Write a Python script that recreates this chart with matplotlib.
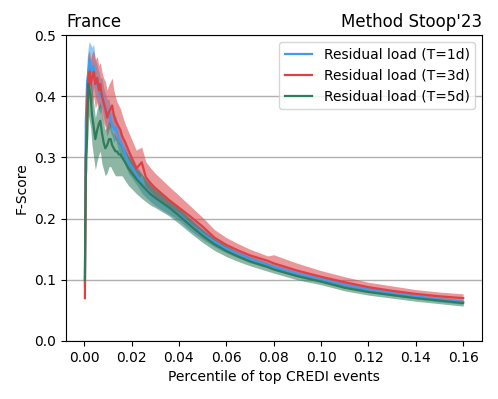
import numpy as np
import matplotlib
matplotlib.use("Agg")
import matplotlib.pyplot as plt

# percentile of top events (shared x grid)
pct = [0.0003, 0.0007, 0.0012, 0.0017, 0.0022, 0.0027, 0.0033, 0.004, 0.0047, 0.0055,
       0.0062, 0.0068, 0.0075, 0.0082, 0.0089, 0.0097, 0.0105, 0.0112, 0.0118, 0.0125,
       0.0132, 0.0139, 0.0146, 0.0153, 0.016, 0.0173, 0.0187, 0.020, 0.022, 0.0243,
       0.026, 0.028, 0.030, 0.033, 0.036, 0.040, 0.045, 0.050, 0.055, 0.060,
       0.065, 0.070, 0.0775, 0.080, 0.090, 0.100, 0.110, 0.120, 0.130, 0.140,
       0.150, 0.160]

# T=1d : mean score and band half width
f1_mean = [0.09, 0.36, 0.42, 0.44, 0.46, 0.45, 0.44, 0.45, 0.43, 0.42,
           0.41, 0.40, 0.405, 0.39, 0.38, 0.37, 0.375, 0.36, 0.355, 0.345,
           0.35, 0.34, 0.33, 0.325, 0.32, 0.305, 0.292, 0.285, 0.272, 0.258,
           0.250, 0.242, 0.234, 0.226, 0.218, 0.207, 0.190, 0.175, 0.162, 0.151,
           0.142, 0.134, 0.124, 0.121, 0.110, 0.101, 0.092, 0.084, 0.078, 0.073,
           0.068, 0.064]
f1_band = [0.02, 0.04, 0.04, 0.04, 0.03, 0.035, 0.04, 0.035, 0.03, 0.03,
           0.03, 0.03, 0.025, 0.025, 0.025, 0.025, 0.02, 0.02, 0.02, 0.02,
           0.02, 0.02, 0.02, 0.02, 0.02, 0.018, 0.018, 0.018, 0.016, 0.016,
           0.015, 0.014, 0.013, 0.012, 0.011, 0.01, 0.01, 0.009, 0.008, 0.007,
           0.006, 0.006, 0.005, 0.005, 0.005, 0.004, 0.004, 0.004, 0.004, 0.004,
           0.004, 0.004]

# T=3d
f3_mean = [0.07, 0.30, 0.38, 0.43, 0.44, 0.42, 0.43, 0.44, 0.42, 0.43,
           0.41, 0.42, 0.40, 0.39, 0.38, 0.365, 0.375, 0.38, 0.385, 0.37,
           0.36, 0.355, 0.35, 0.345, 0.335, 0.325, 0.312, 0.300, 0.282, 0.292,
           0.268, 0.258, 0.250, 0.240, 0.230, 0.218, 0.203, 0.187, 0.169, 0.157,
           0.148, 0.140, 0.131, 0.127, 0.115, 0.105, 0.096, 0.088, 0.082, 0.077,
           0.073, 0.070]
f3_up = [0.02, 0.05, 0.05, 0.04, 0.035, 0.04, 0.04, 0.035, 0.04, 0.035,
         0.04, 0.035, 0.04, 0.04, 0.045, 0.045, 0.045, 0.045, 0.045, 0.04,
         0.04, 0.035, 0.035, 0.035, 0.035, 0.03, 0.03, 0.03, 0.03, 0.025,
         0.025, 0.025, 0.024, 0.023, 0.022, 0.02, 0.017, 0.015, 0.013, 0.012,
         0.011, 0.01, 0.008, 0.014, 0.012, 0.01, 0.009, 0.008, 0.008, 0.007,
         0.007, 0.007]
f3_dn = [0.02, 0.04, 0.04, 0.04, 0.04, 0.04, 0.04, 0.04, 0.04, 0.04,
         0.035, 0.035, 0.035, 0.035, 0.03, 0.03, 0.03, 0.03, 0.03, 0.03,
         0.03, 0.028, 0.028, 0.026, 0.026, 0.025, 0.024, 0.022, 0.02, 0.02,
         0.018, 0.018, 0.017, 0.016, 0.015, 0.014, 0.012, 0.011, 0.01, 0.009,
         0.008, 0.008, 0.007, 0.007, 0.006, 0.006, 0.006, 0.006, 0.006, 0.006,
         0.006, 0.006]

# T=5d
f5_mean = [0.10, 0.30, 0.33, 0.42, 0.41, 0.40, 0.37, 0.35, 0.33, 0.345,
           0.355, 0.36, 0.34, 0.325, 0.315, 0.32, 0.33, 0.33, 0.32, 0.315,
           0.31, 0.31, 0.305, 0.305, 0.30, 0.292, 0.282, 0.275, 0.265, 0.255,
           0.248, 0.240, 0.234, 0.226, 0.218, 0.205, 0.188, 0.172, 0.158, 0.147,
           0.138, 0.130, 0.121, 0.117, 0.106, 0.097, 0.087, 0.080, 0.075, 0.070,
           0.066, 0.062]
f5_up = [0.02, 0.04, 0.05, 0.05, 0.05, 0.04, 0.04, 0.04, 0.035, 0.035,
         0.03, 0.03, 0.03, 0.03, 0.03, 0.03, 0.03, 0.025, 0.025, 0.025,
         0.025, 0.02, 0.02, 0.02, 0.02, 0.02, 0.02, 0.02, 0.018, 0.018,
         0.016, 0.015, 0.014, 0.013, 0.012, 0.012, 0.011, 0.01, 0.009, 0.008,
         0.007, 0.007, 0.006, 0.006, 0.005, 0.005, 0.004, 0.004, 0.004, 0.004,
         0.004, 0.004]
f5_dn = [0.02, 0.04, 0.05, 0.05, 0.05, 0.05, 0.05, 0.05, 0.05, 0.05,
         0.05, 0.05, 0.05, 0.045, 0.045, 0.045, 0.045, 0.045, 0.04, 0.04,
         0.04, 0.04, 0.035, 0.035, 0.03, 0.03, 0.028, 0.026, 0.024, 0.022,
         0.02, 0.018, 0.016, 0.015, 0.014, 0.013, 0.012, 0.011, 0.01, 0.009,
         0.008, 0.007, 0.007, 0.006, 0.006, 0.005, 0.005, 0.005, 0.005, 0.005,
         0.005, 0.005]

labels = ["Residual load (T=1d)", "Residual load (T=3d)", "Residual load (T=5d)"]
colors = ["#3b9cf0", "#dc4146", "#2f7c5a"]

x = np.array(pct)
series = [
    (np.array(f1_mean), np.array(f1_band), np.array(f1_band)),
    (np.array(f3_mean), np.array(f3_dn), np.array(f3_up)),
    (np.array(f5_mean), np.array(f5_dn), np.array(f5_up)),
]

fig = plt.figure(figsize=(4.98, 3.99), dpi=100)
ax = fig.add_axes([0.1325, 0.1454, 0.8355, 0.7666])

for (m, dn, up), lab, c in zip(series, labels, colors):
    ax.fill_between(x, m - dn, m + up, color=c, alpha=0.55, linewidth=0)
    ax.plot(x, m, color=c, lw=1.6, label=lab)

ax.set_ylim(0, 0.5)
ax.set_xticks(np.arange(0, 0.161, 0.02))
ax.set_yticks(np.arange(0, 0.51, 0.1))
ax.yaxis.grid(True, color="#b0b0b0", lw=1)
ax.set_axisbelow(True)
ax.set_xlabel("Percentile of top CREDI events")
ax.set_ylabel("F-Score")
ax.set_title("France", loc="left")
ax.set_title("Method Stoop'23", loc="right")
ax.legend(loc="upper right")

fig.savefig("out.png", dpi=100)
